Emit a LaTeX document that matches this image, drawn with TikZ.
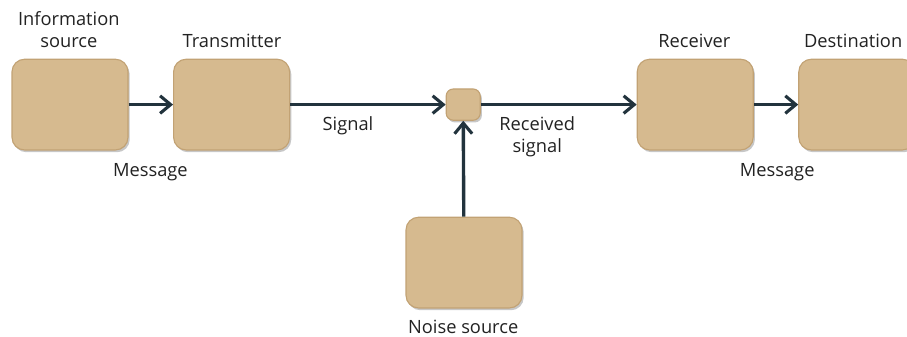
\documentclass[tikz,border=0pt]{standalone}
\usepackage{fontspec}
\setmainfont{Open Sans}
\usetikzlibrary{arrows.meta, positioning, shadows}

\begin{document}
\begin{tikzpicture}[
    every node/.style={font=\fontsize{13}{16}\selectfont},
]

% ---------------------------------------------------------------- colours
\definecolor{boxfill}{HTML}{D6BA8F}   % the blocks
\definecolor{boxline}{HTML}{C2A274}
\definecolor{wire}{HTML}{22333D}      % connectors
\definecolor{textcolor}{HTML}{222222}

% ---------------------------------------------------------------- styles
\tikzset{
    block/.style={
        rectangle, rounded corners=9pt, minimum width=2.9cm,
        minimum height=2.27cm, draw=boxline, line width=0.8pt,
        fill=boxfill,
        drop shadow={shadow xshift=1.2pt, shadow yshift=-1.6pt,
            opacity=0.22, fill=black},
    },
    joint/.style={
        block, rounded corners=5pt, minimum width=0.85cm,
        minimum height=0.78cm,
    },
    caption/.style={text=textcolor, align=center},
    link/.style={
        -{Straight Barb[length=7.5pt, width=12.5pt, line width=2.2pt]},
        line width=2.4pt, wire,
    },
}

% ================================================================
% GEOMETRY  (1 px of the layout = 0.025 cm)
%   main row        y = 5.81
%   noise block     y = 1.86, under the joint
% ================================================================
\useasboundingbox (0, 0) rectangle (22.675, 8.425);
\clip (0, 0) rectangle (22.675, 8.425);

% ---------------------------------------------------------------- blocks
\node[block] (source)   at (1.75, 5.81)   {};
\node[block] (sender)   at (5.79, 5.81)   {};
\node[joint] (mix)      at (11.58, 5.81)  {};
\node[block] (receiver) at (17.38, 5.81)  {};
\node[block] (dest)     at (21.42, 5.81)  {};
\node[block] (noise)    at (11.60, 1.86)  {};

% ---------------------------------------------------------------- titles
\node[caption] (tsource)   at (1.72, 7.68)  {Information\\source};
\node[caption] (tsender)   at (5.80, 7.40)  {Transmitter};
\node[caption] (treceiver) at (17.36, 7.40) {Receiver};
\node[caption] (tdest)     at (21.33, 7.40) {Destination};
\node[caption] (tnoise)    at (11.58, 0.25) {Noise source};

% ---------------------------------------------------------------- connectors
\draw[link] (source) -- (sender);
\draw[link] (sender) -- (mix);
\draw[link] (mix) -- (receiver);
\draw[link] (receiver) -- (dest);
\draw[link] (noise) -- (mix);

% ---------------------------------------------------------------- wire labels
\node[caption] (msg1) at (3.76, 4.13)  {Message};
\node[caption] (sig)  at (8.70, 5.27)  {Signal};
\node[caption] (rsig) at (13.43, 5.01) {Received\\signal};
\node[caption] (msg2) at (19.43, 4.13) {Message};

\end{tikzpicture}
\end{document}
